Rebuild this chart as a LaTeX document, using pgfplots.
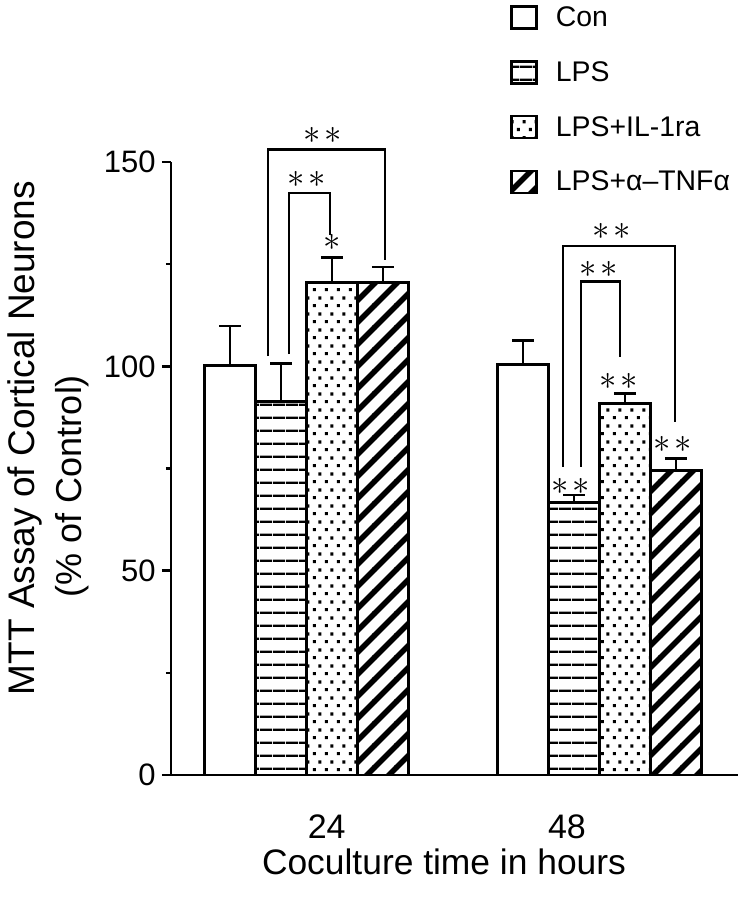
\documentclass[border=0pt]{standalone}
\usepackage{fontspec}
\setmainfont{Liberation Sans}
\usepackage{pgfplots}
\pgfplotsset{compat=1.18}
\usetikzlibrary{patterns}

\pgfdeclarepatternformonly{hstripes}{\pgfqpoint{0pt}{0pt}}{\pgfqpoint{6.5pt}{6.5pt}}{\pgfqpoint{6.5pt}{6.5pt}}{%
  \pgfpathrectangle{\pgfqpoint{0pt}{0pt}}{\pgfqpoint{6.5pt}{1.3pt}}\pgfusepath{fill}}
\pgfdeclarepatternformonly{sdots}{\pgfqpoint{0pt}{0pt}}{\pgfqpoint{6pt}{8pt}}{\pgfqpoint{6pt}{8pt}}{%
  \pgfpathrectangle{\pgfqpoint{0.5pt}{0.5pt}}{\pgfqpoint{1.6pt}{1.6pt}}%
  \pgfpathrectangle{\pgfqpoint{3.5pt}{4.5pt}}{\pgfqpoint{1.6pt}{1.6pt}}%
  \pgfusepath{fill}}
\pgfdeclarepatternformonly{dstripes}{\pgfqpoint{-1pt}{-1pt}}{\pgfqpoint{12pt}{12pt}}{\pgfqpoint{11pt}{11pt}}{%
  \pgfsetlinewidth{2.8pt}%
  \pgfpathmoveto{\pgfqpoint{-1pt}{-1pt}}\pgfpathlineto{\pgfqpoint{12pt}{12pt}}\pgfusepath{stroke}}

\pgfplotsset{
  mybar/.style={ybar, bar width=0.174, bar shift=0pt, draw=black, line width=1.4pt,
    error bars/.cd, y dir=plus, y explicit, error mark=|,
    error bar style={line width=1.3pt, black},
    error mark options={line width=1.3pt, mark size=5.5pt, black},
    /pgfplots/.cd,
    legend image code/.code={\draw[##1, line width=1.3pt] (0pt,-5.5pt) rectangle (12.5pt,5.5pt);}},
  brk/.style={black, line width=1.3pt, sharp plot, no marks, forget plot},
}
\newcommand{\twostar}{\fontsize{17}{17}\selectfont$\ast$\hspace{2pt}$\ast$}
\newcommand{\onestar}{\fontsize{17}{17}\selectfont$\ast$}

\begin{document}
\begin{tikzpicture}
\begin{axis}[
  scale only axis, width=283.5pt, height=306.5pt,
  xmin=0.5375, xmax=2.4727, ymin=0, ymax=150,
  axis lines*=left, clip=false,
  axis line style={line width=1.4pt},
  ytick={0,50,100,150}, minor ytick={25,75,125},
  tick align=outside, major tick length=4.5pt, minor tick length=2.5pt,
  tick style={line width=1.3pt, black},
  xtick={1.069,1.889}, xticklabels={24,48},
  x tick style={draw=none},
  xticklabel style={anchor=base, yshift=-27pt, font=\fontsize{17}{20}\selectfont},
  yticklabel style={inner sep=0pt, xshift=-3pt, font=\fontsize{15.5}{18}\selectfont},
  /pgf/number format/assume math mode=true,
  legend style={at={(rel axis cs:0.598,1.2563)}, anchor=north west, draw=none, fill=none,
    inner sep=0pt, row sep=15.1pt, column sep=8.9pt,
    font=\fontsize{14.2}{16}\selectfont,
    nodes={inner sep=0pt, text height=10pt, text depth=1pt}},
  legend cell align=left,
]
\coordinate (O) at (rel axis cs:0,0);
% Con
\addplot[mybar, fill=white] coordinates {(0.739,100.3) +- (0,9.6) (1.739,100.5) +- (0,5.8)};
% LPS
\addplot[mybar, pattern=hstripes] coordinates {(0.913,91.3) +- (0,9.4) (1.913,66.6) +- (0,1.9)};
% LPS+IL-1ra
\addplot[mybar, pattern=sdots] coordinates {(1.087,120.5) +- (0,6.1) (2.087,90.9) +- (0,2.5)};
% LPS+anti-TNF
\addplot[mybar, pattern=dstripes] coordinates {(1.261,120.5) +- (0,3.8) (2.261,74.6) +- (0,2.9)};
\legend{Con, LPS, LPS+IL-1ra, LPS+α–TNFα}

% brackets 24 h
\addplot[brk] coordinates {(0.8686,102.5) (0.8686,153.1) (1.2679,153.1) (1.2679,126.0)};
\addplot[brk] coordinates {(0.9403,103.0) (0.9403,142.4) (1.0802,142.4) (1.0802,132.1)};
% brackets 48 h
\addplot[brk] coordinates {(1.8754,75.4) (1.8754,129.4) (2.2577,129.4) (2.2577,86.4)};
\addplot[brk] coordinates {(1.9369,75.4) (1.9369,120.8) (2.0700,120.8) (2.0700,102.2)};

\node[inner sep=0pt] at (axis cs:1.056,156.4) {\twostar};
\node[inner sep=0pt] at (axis cs:1.0007,145.7) {\twostar};
\node[inner sep=0pt] at (axis cs:1.087,130.3) {\onestar};
\node[inner sep=0pt] at (axis cs:2.0427,133.0) {\twostar};
\node[inner sep=0pt] at (axis cs:1.998,123.7) {\twostar};
\node[inner sep=0pt] at (axis cs:1.9017,70.7) {\twostar};
\node[inner sep=0pt] at (axis cs:2.0666,96.4) {\twostar};
\node[inner sep=0pt] at (axis cs:2.2485,80.9) {\twostar};

\node[rotate=90, anchor=base, inner sep=0pt, font=\fontsize{18.5}{20}\selectfont]
  at ([shift={(-68pt,168.5pt)}]rel axis cs:0,0) {MTT Assay of Cortical Neurons};
\node[rotate=90, anchor=base, inner sep=0pt, font=\fontsize{18}{20}\selectfont]
  at ([shift={(-44.5pt,144.5pt)}]rel axis cs:0,0) {(\% of Control)};
\node[anchor=base, inner sep=0pt, font=\fontsize{17.7}{20}\selectfont]
  at ([shift={(136.5pt,-49.5pt)}]rel axis cs:0,0) {Coculture time in hours};
\end{axis}
\pgfresetboundingbox
\path[use as bounding box] ([shift={(-85.5pt,-62.5pt)}]O) rectangle ([shift={(284.5pt,387.5pt)}]O);
\end{tikzpicture}
\end{document}
